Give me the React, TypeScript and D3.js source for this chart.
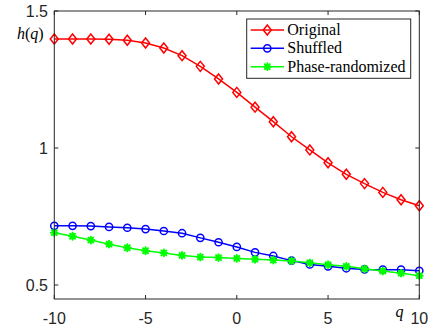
import React from "react";
import * as d3 from "d3";

// q values shared by all three series
const qValues = [-10, -9, -8, -7, -6, -5, -4, -3, -2, -1, 0, 1, 2, 3, 4, 5, 6, 7, 8, 9, 10];

// generalized Hurst exponent h(q) for each series
const original = [
  1.398, 1.398, 1.398, 1.397, 1.393, 1.383, 1.365, 1.337, 1.298, 1.252, 1.203,
  1.149, 1.096, 1.041, 0.993, 0.946, 0.904, 0.87, 0.838, 0.811, 0.789,
];
const shuffled = [
  0.716, 0.716, 0.715, 0.712, 0.709, 0.704, 0.697, 0.689, 0.672, 0.656, 0.639,
  0.619, 0.606, 0.589, 0.575, 0.568, 0.561, 0.557, 0.556, 0.556, 0.552,
];
const phaseRandomized = [
  0.691, 0.678, 0.664, 0.649, 0.636, 0.625, 0.617, 0.608, 0.602, 0.6, 0.597,
  0.594, 0.591, 0.588, 0.581, 0.574, 0.568, 0.559, 0.551, 0.543, 0.534,
];

const seriesNames = ["Original", "Shuffled", "Phase-randomized"];
const xTicks = [-10, -5, 0, 5, 10];
const yTicks = [0.5, 1, 1.5];

const W = 428;
const H = 327;
const AXIS = "#262626";
const SANS = "Liberation Sans, Arial, sans-serif";
const SERIF = "Liberation Serif, Times New Roman, serif";

type Marker = "diamond" | "circle" | "star";

function MarkerShape({ kind, x, y, color }: { kind: Marker; x: number; y: number; color: string }) {
  if (kind === "diamond") {
    const w = 4, h = 5;
    return (
      <path
        d={`M${x},${y - h}L${x + w},${y}L${x},${y + h}L${x - w},${y}Z`}
        fill="none"
        stroke={color}
        strokeWidth={1.5}
      />
    );
  }
  if (kind === "circle") {
    return <circle cx={x} cy={y} r={3.6} fill="none" stroke={color} strokeWidth={1.5} />;
  }
  const r = 3.4;
  const d = r * 0.72;
  return (
    <path
      d={`M${x - r},${y}L${x + r},${y}M${x},${y - r}L${x},${y + r}M${x - d},${y - d}L${x + d},${y + d}M${x - d},${y + d}L${x + d},${y - d}`}
      stroke={color}
      strokeWidth={2}
      strokeLinecap="round"
    />
  );
}

export default function App() {
  const left = 54.3, right = 419.3, top = 11, bottom = 299;
  const x = d3.scaleLinear().domain([-10, 10]).range([left, right]);
  const y = d3.scaleLinear().domain([0.5, 1.5]).range([285, 11]);

  const series: { name: string; values: number[]; color: string; marker: Marker }[] = [
    { name: seriesNames[0], values: original, color: "#ff0000", marker: "diamond" },
    { name: seriesNames[1], values: shuffled, color: "#0000ff", marker: "circle" },
    { name: seriesNames[2], values: phaseRandomized, color: "#00ff00", marker: "star" },
  ];

  const line = d3
    .line<[number, number]>()
    .x((d) => x(d[0]))
    .y((d) => y(d[1]));

  const tickLen = 4;
  const legend = { x0: 246.7, y0: 19, x1: 410.7, y1: 78.3 };
  const rowY = [30, 48.3, 66.7];
  const serifStyle = { fontFamily: SERIF, fontSize: 16 };
  const sansStyle = { fontFamily: SANS, fontSize: 16 };

  return (
    <svg
      width={W}
      height={H}
      style={{ position: "absolute", left: 0, top: 0, background: "#fff" }}
      xmlns="http://www.w3.org/2000/svg"
    >
      <rect x={0} y={0} width={W} height={H} fill="#fff" />

      {/* series lines and markers */}
      {series.map((s) => {
        const pts = qValues.map((q, i) => [q, s.values[i]] as [number, number]);
        return (
          <g key={s.name}>
            <path d={line(pts) ?? ""} fill="none" stroke={s.color} strokeWidth={1.5} />
            {pts.map((p, i) => (
              <MarkerShape key={i} kind={s.marker} x={x(p[0])} y={y(p[1])} color={s.color} />
            ))}
          </g>
        );
      })}

      {/* axes box */}
      <rect
        x={left}
        y={top}
        width={right - left}
        height={bottom - top}
        fill="none"
        stroke={AXIS}
        strokeWidth={1}
      />

      {/* x ticks */}
      {xTicks.map((t) => (
        <g key={`x${t}`}>
          <line x1={x(t)} x2={x(t)} y1={bottom} y2={bottom - tickLen} stroke={AXIS} />
          <line x1={x(t)} x2={x(t)} y1={top} y2={top + tickLen} stroke={AXIS} />
          <text x={x(t)} y={324} textAnchor="middle" style={sansStyle} fill={AXIS}>
            {t}
          </text>
        </g>
      ))}

      {/* y ticks */}
      {yTicks.map((t) => (
        <g key={`y${t}`}>
          <line x1={left} x2={left + tickLen} y1={y(t)} y2={y(t)} stroke={AXIS} />
          <line x1={right} x2={right - tickLen} y1={y(t)} y2={y(t)} stroke={AXIS} />
          <text x={48} y={y(t) + 6} textAnchor="end" style={sansStyle} fill={AXIS}>
            {t}
          </text>
        </g>
      ))}

      {/* axis labels */}
      <text x={17} y={38.5} style={serifStyle} fill="#000">
        <tspan style={{ fontStyle: "italic" }}>h</tspan>
        <tspan>(</tspan>
        <tspan style={{ fontStyle: "italic" }}>q</tspan>
        <tspan>)</tspan>
      </text>
      <text x={395.5} y={317} style={{ ...serifStyle, fontStyle: "italic" }} fill="#000">
        q
      </text>

      {/* legend */}
      <rect
        x={legend.x0}
        y={legend.y0}
        width={legend.x1 - legend.x0}
        height={legend.y1 - legend.y0}
        fill="#fff"
        stroke={AXIS}
        strokeWidth={1}
      />
      {series.map((s, i) => (
        <g key={`leg${s.name}`}>
          <line x1={250.7} x2={284} y1={rowY[i]} y2={rowY[i]} stroke={s.color} strokeWidth={1.5} />
          <MarkerShape kind={s.marker} x={267.3} y={rowY[i]} color={s.color} />
          <text x={287.3} y={rowY[i] + 5} style={serifStyle} fill="#000">
            {s.name}
          </text>
        </g>
      ))}
    </svg>
  );
}
